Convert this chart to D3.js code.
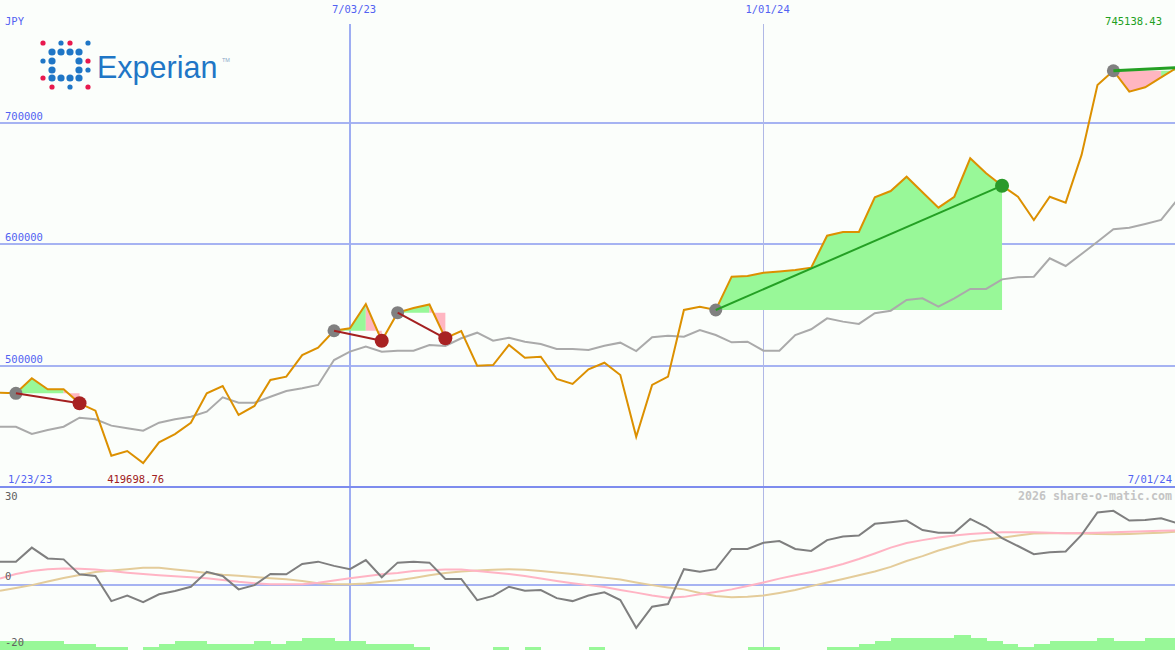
<!DOCTYPE html>
<html>
<head>
<meta charset="utf-8">
<script src="https://cdn.jsdelivr.net/npm/d3@7"></script>
<style>
  html, body { margin: 0; padding: 0; background: #fbfefb; }
  svg { display: block; }
  text { font-family: "DejaVu Sans Mono", monospace; }
</style>
</head>
<body>
<svg id="chart" width="1175" height="650"></svg>
<script>
// ---------------- DATA ----------------
const startDate = new Date(2023, 0, 30);   // first weekly bar
const endDate = new Date(2024, 6, 1);      // last weekly bar

// weekly closing price (JPY)
const price = [477600, 477100, 489500, 480400, 480400, 468900, 462800, 425800, 429600, 419698.76,
  436800, 443600, 452900, 477100, 483100, 459300, 466700, 488100, 490800, 508600,
  514700, 528600, 530600, 550600, 520400, 543500, 547300, 550200, 522400, 528400,
  499800, 500400, 516900, 506400, 507200, 488900, 484800, 496900, 502300, 492200,
  441400, 484000, 490800, 545700, 548400, 545700, 573100, 573700, 576400, 577400,
  578600, 580500, 606800, 609900, 609900, 638400, 643600, 655400, 642600, 629900,
  638900, 670500, 658200, 648000, 638900, 619800, 638900, 634000, 673300, 730900,
  742600, 725400, 729000, 737200, 745138.43];

// comparison / average line (grey)
const average = [449600, 449600, 443600, 446900, 449600, 457000, 455700, 450500, 448300, 446300,
  452900, 455700, 457900, 462000, 473800, 469400, 469400, 474300, 479000, 481200,
  484000, 504500, 511400, 515500, 511400, 512200, 512200, 516900, 516100, 522400,
  527000, 520400, 522900, 519600, 517700, 513600, 513600, 512800, 516300, 518800,
  511900, 523200, 524500, 523700, 529200, 525100, 519100, 519600, 512200, 512200,
  525100, 529800, 538800, 536100, 534200, 543000, 545100, 553900, 555300, 548400,
  555300, 563000, 563000, 570900, 572600, 573100, 588200, 581900, 591800, 601900,
  612100, 613400, 616500, 619800, 636200];

// lower panel: momentum (dark grey), fast average (pink), slow average (tan)
const momentum = [7.1, 7.1, 11.4, 8.1, 7.8, 3.2, 2.7, -5.0, -3.3, -5.3,
  -2.9, -1.9, -0.6, 4.0, 2.7, -1.4, -0.1, 3.3, 3.2, 6.4,
  7.1, 5.8, 4.8, 7.6, 2.3, 6.8, 7.1, 6.8, 1.8, 1.8,
  -4.7, -3.4, -0.6, -1.8, -1.6, -4.1, -5.0, -3.3, -2.3, -4.7,
  -13.2, -6.7, -5.9, 4.8, 4.0, 4.8, 11.0, 11.0, 12.9, 13.4,
  11.0, 10.4, 13.7, 14.8, 15.1, 18.7, 19.2, 19.7, 16.8, 16.0,
  16.0, 20.2, 17.8, 14.3, 11.9, 9.4, 10.0, 10.2, 15.3, 22.2,
  22.7, 19.7, 19.9, 20.4, 18.9];

const fastAvg = [1.9, 3.3, 4.2, 4.8, 5.0, 4.9, 4.7, 4.2, 3.7, 3.3,
  2.9, 2.6, 2.3, 2.0, 1.5, 0.9, 0.5, 0.2, 0.2, 0.2,
  0.6, 1.3, 2.0, 2.6, 3.2, 3.6, 4.2, 4.5, 4.7, 4.7,
  4.2, 3.8, 3.3, 2.7, 1.9, 1.2, 0.5, -0.1, -0.7, -1.6,
  -2.4, -3.3, -4.0, -3.7, -2.9, -2.2, -1.4, -0.4, 0.7, 1.9,
  2.9, 3.9, 5.1, 6.4, 7.9, 9.6, 11.4, 12.8, 13.7, 14.5,
  15.1, 15.6, 15.9, 16.1, 16.1, 16.1, 16.0, 15.8, 15.9, 16.0,
  16.1, 16.3, 16.4, 16.6, 16.7];

const slowAvg = [-1.8, -1.0, -0.1, 1.0, 2.1, 3.0, 3.9, 4.4, 4.8, 5.2,
  5.2, 4.7, 4.2, 3.6, 3.1, 2.8, 2.4, 2.0, 1.7, 1.2,
  0.5, 0.2, 0.2, 0.4, 0.9, 1.4, 2.1, 2.9, 3.6, 4.1,
  4.4, 4.6, 4.8, 4.6, 4.2, 3.8, 3.3, 2.8, 2.2, 1.6,
  0.7, -0.1, -0.8, -1.4, -2.5, -3.4, -3.8, -3.7, -3.3, -2.5,
  -1.6, -0.4, 0.7, 1.8, 2.9, 4.1, 5.5, 7.3, 8.8, 10.5,
  11.9, 13.3, 13.9, 14.4, 15.1, 15.7, 15.8, 15.8, 15.7, 15.6,
  15.5, 15.6, 15.8, 16.0, 16.3];

// volume level bars (bottom of lower panel)
const volume = [3, 3, 3, 3, 2, 2, 1, 1, 0, 1,
  2, 3, 3, 2, 2, 2, 3, 2, 3, 4,
  4, 3, 3, 2, 2, 2, 1, 0, 0, 0,
  0, 1, 0, 1, 0, 0, 0, 1, 0, 0,
  0, 0, 0, 0, 0, 0, 0, 1, 1, 0,
  0, 0, 1, 1, 2, 3, 4, 4, 4, 4,
  5, 4, 3, 2, 1, 2, 3, 3, 3, 4,
  3, 3, 4, 4, 0];

// trades: entry week index, exit week index (null = still open)
const tradeEntries = [1, 21, 25, 45, 70];
const tradeExits = [5, 24, 28, 63, null];

// axis ticks / labels
const priceTicks = [500000, 600000, 700000];
const dateLines = [new Date(2023, 6, 3), new Date(2024, 0, 1)];
const dateLineLabels = ["7/03/23", "1/01/24"];
const lowerTicks = [30, 0, -20];
const lowerTickLabels = ["30", "0", "-20"];
const currency = "JPY";
const rangeStartLabel = "1/23/23";
const rangeEndLabel = "7/01/24";
const credit = "2026 share-o-matic.com";

// ---------------- DRAW ----------------
const svg = d3.select("#chart");
const W = 1175, H = 650;
const mainTop = 1, mainBottom = 487, lowTop = 487, lowBottom = 650;

const dates = price.map((d, i) => d3.timeDay.offset(startDate, 7 * i));
const x = d3.scaleTime().domain([startDate, endDate]).range([0, 1177]);
const y = d3.scaleLinear().domain([400000, 800000]).range([mainBottom, mainTop]);
const yLow = d3.scaleLinear().domain([-20, 30]).range([lowBottom, lowTop]);
const yVol = d3.scaleLinear().domain([0, 10]).range([lowBottom, lowBottom - 30]);

svg.append("rect").attr("width", W).attr("height", H).attr("fill", "#fbfefb");

const blueText = "#5262f2";
const gridColor = "#a6b3f2";

// horizontal price gridlines
svg.append("g").selectAll("line").data(priceTicks).join("line")
  .attr("x1", 0).attr("x2", W)
  .attr("y1", d => Math.round(y(d))).attr("y2", d => Math.round(y(d)))
  .attr("stroke", gridColor).attr("stroke-width", 2).attr("shape-rendering", "crispEdges");

// lower zero line
svg.append("line").attr("x1", 0).attr("x2", W)
  .attr("y1", Math.round(yLow(0))).attr("y2", Math.round(yLow(0)))
  .attr("stroke", gridColor).attr("stroke-width", 2).attr("shape-rendering", "crispEdges");

// vertical date lines
svg.append("g").selectAll("line").data(dateLines).join("line")
  .attr("x1", d => Math.round(x(d))).attr("x2", d => Math.round(x(d)))
  .attr("y1", 24).attr("y2", H)
  .attr("stroke", (d, i) => i === 0 ? "#9eadf2" : "#b0b8e6")
  .attr("stroke-width", (d, i) => i === 0 ? 2 : 1)
  .attr("shape-rendering", "crispEdges");

// volume bars
svg.append("g").selectAll("rect").data(volume).join("rect")
  .attr("x", (d, i) => x(dates[i]))
  .attr("width", (d, i) => x(d3.timeDay.offset(dates[i], 7)) - x(dates[i]) + 0.5)
  .attr("y", d => yVol(d))
  .attr("height", d => lowBottom - yVol(d))
  .attr("fill", "#98f898")
  .attr("shape-rendering", "crispEdges");

// trade fills: one path per colour per trade, so adjacent pieces have no seams
const green = "#98f898", pink = "#ffb6c1";
const fillG = svg.append("g");
tradeEntries.forEach((e, t) => {
  const exit = tradeExits[t] === null ? price.length - 1 : tradeExits[t];
  const ep = price[e];
  const parts = { g: [], p: [] };
  for (let i = e; i < exit; i++) {
    const pts = [[x(dates[i]), y(ep)], [x(dates[i]), y(price[i])],
                 [x(dates[i + 1]), y(price[i + 1])], [x(dates[i + 1]), y(ep)]];
    const sub = "M" + pts.map(p => p[0].toFixed(2) + "," + p[1].toFixed(2)).join("L") + "Z";
    (price[i + 1] >= ep ? parts.g : parts.p).push(sub);
  }
  if (parts.g.length) fillG.append("path").attr("d", parts.g.join("")).attr("fill", green);
  if (parts.p.length) fillG.append("path").attr("d", parts.p.join("")).attr("fill", pink);
});

// lower-panel lines
const lineLow = d3.line().x((d, i) => x(dates[i])).y(d => yLow(d));
svg.append("path").datum(slowAvg).attr("d", lineLow).attr("fill", "none")
  .attr("stroke", "#e4cc9a").attr("stroke-width", 2);
svg.append("path").datum(fastAvg).attr("d", lineLow).attr("fill", "none")
  .attr("stroke", "#ffb4c4").attr("stroke-width", 2);
svg.append("path").datum(momentum).attr("d", lineLow).attr("fill", "none")
  .attr("stroke", "#7f7f7f").attr("stroke-width", 2);

// main lines
const lineMain = d3.line().x((d, i) => x(dates[i])).y(d => y(d));
svg.append("path").datum(average).attr("d", lineMain).attr("fill", "none")
  .attr("stroke", "#aaaaaa").attr("stroke-width", 2);
svg.append("path").datum(price).attr("d", lineMain).attr("fill", "none")
  .attr("stroke", "#dc9000").attr("stroke-width", 2);

// trade lines and markers
const tradeG = svg.append("g");
tradeEntries.forEach((e, t) => {
  const open = tradeExits[t] === null;
  const exit = open ? price.length - 1 : tradeExits[t];
  const win = price[exit] >= price[e];
  const lc = win ? "#24a024" : "#a42020";
  tradeG.append("circle").attr("cx", x(dates[e])).attr("cy", y(price[e])).attr("r", 6.5).attr("fill", "#808080");
  tradeG.append("line")
    .attr("x1", x(dates[e])).attr("y1", y(price[e]))
    .attr("x2", x(dates[exit])).attr("y2", y(price[exit]))
    .attr("stroke", lc).attr("stroke-width", open ? 3 : 2);
  if (!open) {
    tradeG.append("circle").attr("cx", x(dates[exit])).attr("cy", y(price[exit]))
      .attr("r", 7).attr("fill", win ? "#2a9a2a" : "#a82222");
  }
});

// main panel bottom border
svg.append("line").attr("x1", 0).attr("x2", W).attr("y1", mainBottom).attr("y2", mainBottom)
  .attr("stroke", "#7d8cee").attr("stroke-width", 2).attr("shape-rendering", "crispEdges");

// ---------------- TEXT ----------------
const T = svg.append("g").attr("font-size", 10.5);
T.append("text").attr("x", 5).attr("y", 25).attr("fill", blueText).text(currency);
T.selectAll(".pt").data(priceTicks).join("text").attr("class", "pt")
  .attr("x", 5).attr("y", d => Math.round(y(d)) - 3).attr("fill", blueText)
  .text(d => d);
T.selectAll(".dl").data(dateLines).join("text").attr("class", "dl")
  .attr("x", d => x(d) - 18).attr("y", 13).attr("fill", blueText)
  .text((d, i) => dateLineLabels[i]);
T.append("text").attr("x", 8).attr("y", 483).attr("fill", blueText).text(rangeStartLabel);
T.append("text").attr("x", 1172).attr("y", 483).attr("text-anchor", "end").attr("fill", blueText).text(rangeEndLabel);

const minIdx = d3.minIndex(price), maxIdx = d3.maxIndex(price);
T.append("text").attr("x", x(dates[minIdx]) - 36).attr("y", 483).attr("fill", "#a02020")
  .text(d3.format(".2f")(price[minIdx]));
T.append("text").attr("x", 1162).attr("y", 25).attr("text-anchor", "end").attr("fill", "#22a022")
  .text(d3.format(".2f")(price[maxIdx]));

T.selectAll(".lt").data(lowerTicks).join("text").attr("class", "lt")
  .attr("x", 5).attr("y", (d, i) => [499.5, 580, 646][i]).attr("fill", "#606060")
  .text((d, i) => lowerTickLabels[i]);

svg.append("text").attr("x", 1172).attr("y", 500).attr("text-anchor", "end")
  .attr("font-size", 11.5).attr("font-weight", "bold").attr("fill", "#c4c4c4")
  .attr("textLength", 154).attr("lengthAdjust", "spacingAndGlyphs").text(credit);

// ---------------- LOGO ----------------
const logoBlue = "#1f76c6", logoRed = "#e8194e";
const cols = [43, 52, 61, 70, 79, 88], rows = [43, 52, 61, 70, 78, 87];
const dots = [
  [0,0,"r",0],[2,0,"b",0],[3,0,"r",0],[5,0,"b",0],
  [1,1,"b",1],[2,1,"b",1],[3,1,"b",1],[4,1,"b",1],
  [0,2,"b",0],[1,2,"b",1],[4,2,"b",1],[5,2,"r",0],
  [1,3,"b",1],[4,3,"b",1],[5,3,"b",0],
  [0,4,"r",0],[1,4,"b",1],[2,4,"b",1],[3,4,"b",1],[4,4,"b",1],
  [1,5,"r",0],[3,5,"b",0],[5,5,"r",0]
];
svg.append("g").selectAll("circle").data(dots).join("circle")
  .attr("cx", d => cols[d[0]]).attr("cy", d => rows[d[1]])
  .attr("r", d => d[3] ? 3.6 : 2.6)
  .attr("fill", d => d[2] === "r" ? logoRed : logoBlue);
svg.append("text").attr("x", 97).attr("y", 78)
  .style("font-family", "'Liberation Sans', Arial, sans-serif")
  .attr("font-size", 30.5).attr("fill", logoBlue).text("Experian");
svg.append("text").attr("x", 222).attr("y", 62)
  .style("font-family", "'Liberation Sans', Arial, sans-serif")
  .attr("font-size", 5.5).attr("fill", "#8aa6c8").text("TM");
</script>
</body>
</html>
